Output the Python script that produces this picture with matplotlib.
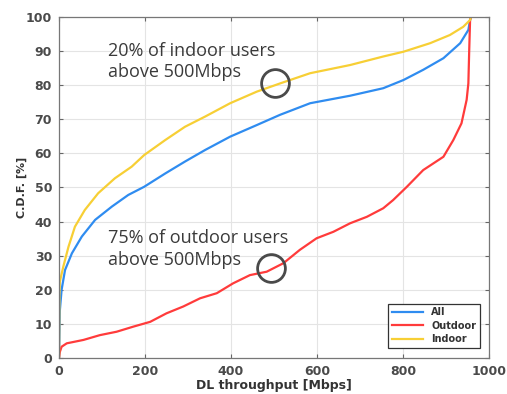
import matplotlib

matplotlib.use("Agg")
import matplotlib.pyplot as plt

BLUE = "#2f8cf0"
RED = "#ff3b3b"
YELLOW = "#f7cf35"
TXT = "#3a3a3a"

# CDF points, throughput in Mbps vs. percent of users
all_x = [0, 2, 6, 14, 30, 53, 84, 123, 161, 198, 247, 293, 340, 398, 460, 514, 584,
         677, 754, 801, 847, 894, 933, 952, 956, 958]
all_y = [0, 14, 20, 25.8, 30.7, 35.6, 40.5, 44.4, 47.8, 50.2, 54.1, 57.6, 61, 64.9,
         68.3, 71.3, 74.7, 76.9, 79.1, 81.5, 84.5, 87.9, 92.3, 96.2, 99.1, 100]

out_x = [0, 1, 2, 6, 18, 57, 95, 134, 173, 212, 250, 289, 328, 367, 405, 444, 483, 522,
         560, 599, 638, 677, 716, 754, 777, 809, 847, 894, 917, 936, 948, 952, 954, 956, 958]
out_y = [0, 1.0, 1.8, 3.3, 4.3, 5.3, 6.7, 7.7, 9.2, 10.6, 13.1, 15.1, 17.5, 19, 21.9,
         24.3, 25.3, 27.8, 31.7, 35.1, 37.0, 39.5, 41.4, 43.9, 46.3, 50.2, 55.1, 59.0,
         63.9, 68.8, 75.7, 80.5, 90.3, 99.1, 100]

in_x = [0, 1, 2, 10, 22, 37, 60, 91, 130, 169, 198, 247, 293, 340, 398, 460, 514, 584,
        677, 754, 801, 863, 909, 940, 956, 958]
in_y = [0, 19, 22.4, 26.8, 32.6, 38.5, 43.4, 48.3, 52.7, 56.1, 59.5, 63.9, 67.8, 70.8,
        74.7, 78.1, 80.5, 83.5, 85.9, 88.4, 89.8, 92.3, 94.7, 97.1, 99.1, 100]

circle_x = [502, 492]
circle_y = [80.7, 26.5]

fig = plt.figure(figsize=(5.07, 3.94), dpi=100)
ax = fig.add_axes([0.1164, 0.0914, 0.8481, 0.8656])

ax.plot(all_x, all_y, color=BLUE, lw=1.6, label="All")
ax.plot(out_x, out_y, color=RED, lw=1.6, label="Outdoor")
ax.plot(in_x, in_y, color=YELLOW, lw=1.6, label="Indoor")

ax.plot(circle_x, circle_y, ls="none", marker="o", ms=20, mfc="none",
        mec="#4a4a4a", mew=2.0)

# annotation lines, placed by baseline
note = dict(fontsize=13, color=TXT, family="Open Sans", va="baseline")
ax.text(114, 88.6, "20% of indoor users", **note)
ax.text(114, 82.4, "above 500Mbps", **note)
ax.text(114, 33.8, "75% of outdoor users", **note)
ax.text(114, 27.2, "above 500Mbps", **note)

ax.set_xlim(0, 1000)
ax.set_ylim(0, 100)
ax.set_xticks(range(0, 1001, 200))
ax.set_yticks(range(0, 101, 10))
ax.grid(True, color="#e4e4e4", lw=0.8)
ax.set_axisbelow(True)
ax.tick_params(direction="in", top=True, right=True, length=3, color="#666",
               labelsize=9, labelcolor="#4a4a4a", pad=5)
for lab in ax.get_xticklabels() + ax.get_yticklabels():
    lab.set_fontweight("bold")
for s in ax.spines.values():
    s.set_color("#777")
    s.set_linewidth(0.9)

ax.set_xlabel("DL throughput [Mbps]", fontsize=9, fontweight="bold", color="#333", labelpad=1)
ax.set_ylabel("C.D.F. [%]", fontsize=8, fontweight="bold", color="#333", labelpad=-1)

leg = ax.legend(loc="lower right", prop={"weight": "bold", "size": 7},
                fancybox=False, framealpha=1, edgecolor="#333", handlelength=3.2,
                borderpad=0.4, labelspacing=0.35, borderaxespad=0,
                bbox_to_anchor=(0.979, 0.029))
leg.get_frame().set_linewidth(0.9)
for t in leg.get_texts():
    t.set_color("#333")

fig.savefig("out.png", dpi=100)
